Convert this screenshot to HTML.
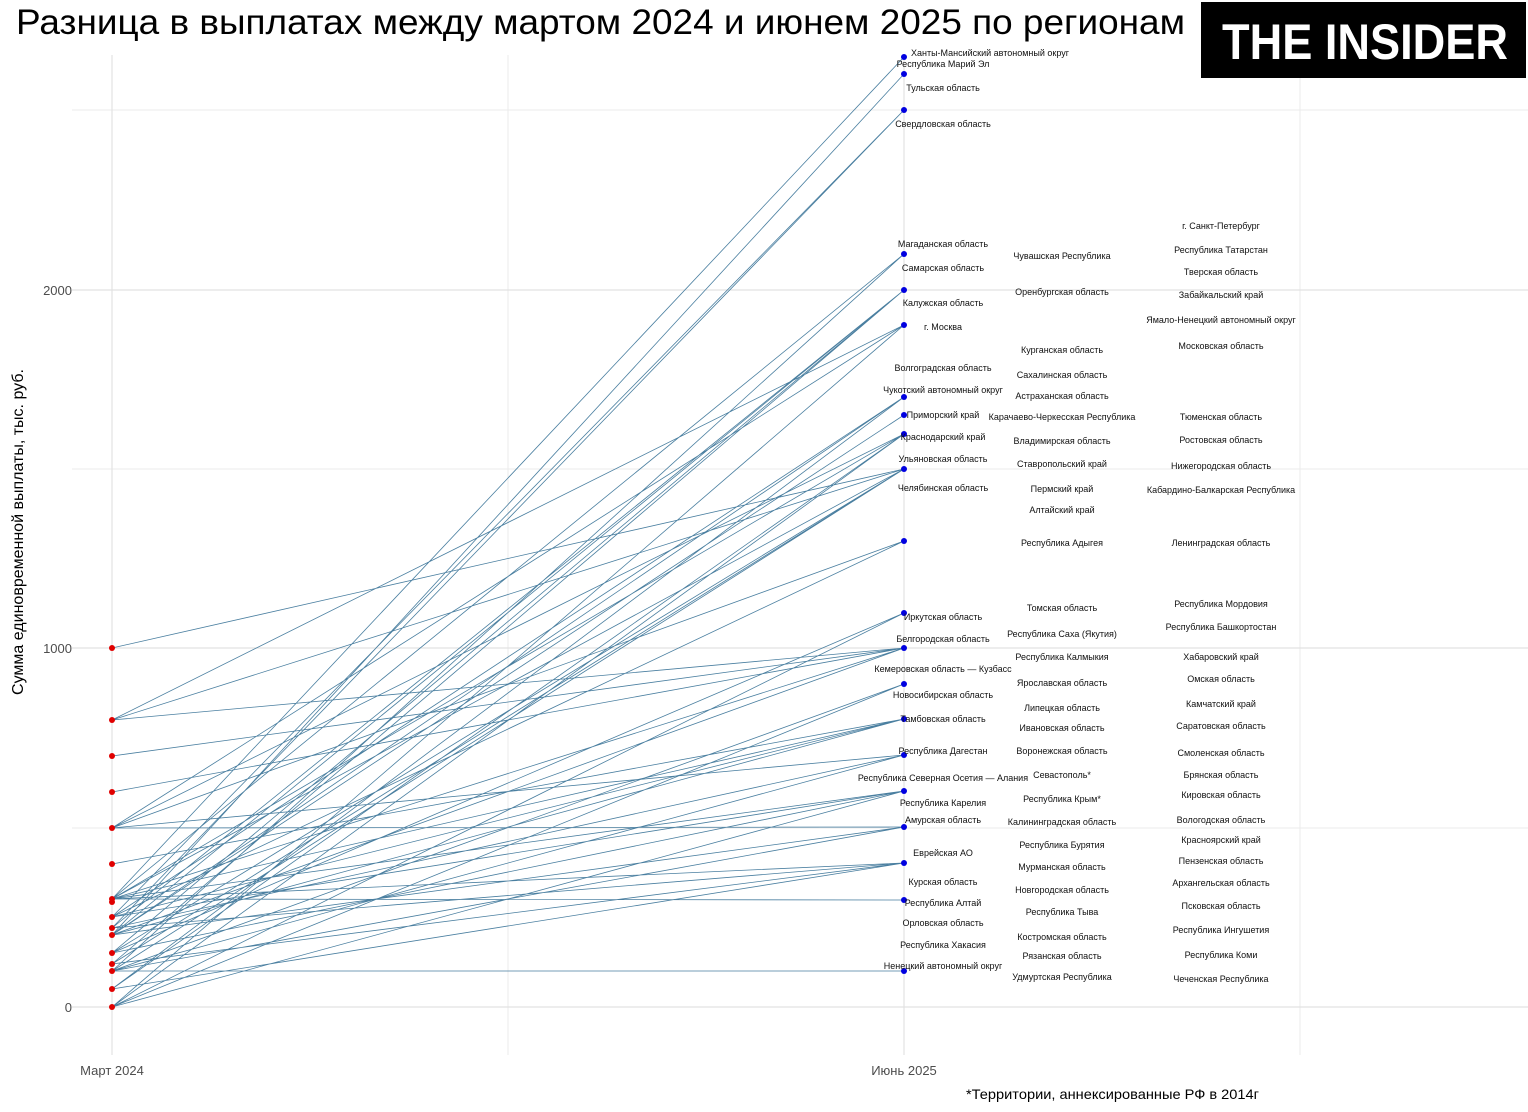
<!DOCTYPE html>
<html><head><meta charset="utf-8"><style>
html,body{margin:0;padding:0;background:#fff;}
body{width:1528px;height:1112px;position:relative;overflow:hidden;font-family:"Liberation Sans",sans-serif;}
</style></head><body>
<svg width="1528" height="1112" xmlns="http://www.w3.org/2000/svg" style="position:absolute;left:0;top:0" font-family="Liberation Sans, sans-serif">
<g stroke="#ebebeb" stroke-width="1">
<line x1="72" x2="1528" y1="110" y2="110"/><line x1="72" x2="1528" y1="469" y2="469"/><line x1="72" x2="1528" y1="828" y2="828"/>
<line x1="508" x2="508" y1="55" y2="1055"/><line x1="1300" x2="1300" y1="55" y2="1055"/>
</g>
<g stroke="#e2e2e2" stroke-width="1.2">
<line x1="72" x2="1528" y1="290" y2="290"/><line x1="72" x2="1528" y1="648" y2="648"/><line x1="72" x2="1528" y1="1007" y2="1007"/>
<line x1="112" x2="112" y1="55" y2="1055"/><line x1="904" x2="904" y1="55" y2="1055"/>
</g>
<g stroke="#4a7fa0" stroke-width="0.8" fill="none">
<path d="M112 899L904 57M112 935L904 74M112 917L904 110M112 928L904 110M112 899L904 254M112 971L904 254M112 935L904 290M112 964L904 290M112 953L904 290M112 928L904 290M112 828L904 325M112 720L904 325M112 1007L904 325M112 989L904 397M112 917L904 397M112 935L904 415M112 899L904 434M112 828L904 434M112 1007L904 434M112 989L904 434M112 648L904 469M112 720L904 469M112 971L904 469M112 953L904 469M112 964L904 469M112 828L904 541M112 1007L904 613M112 720L904 648M112 792L904 648M112 899L904 648M112 935L904 648M112 756L904 648M112 1007L904 684M112 864L904 719M112 899L904 719M112 935L904 719M112 828L904 755M112 971L904 755M112 928L904 755M112 917L904 791M112 953L904 791M112 1007L904 791M112 899L904 791M112 935L904 827M112 971L904 827M112 828L904 827M112 899L904 863M112 964L904 863M112 989L904 863M112 928L904 863M112 899L904 900M112 971L904 971M112 917L904 541M112 953L904 613M112 899L904 469M112 935L904 397M112 971L904 684M112 917L904 719M112 828L904 434"/>
</g>
<g fill="#e00000">
<circle cx="112" cy="648" r="3"/><circle cx="112" cy="720" r="3"/><circle cx="112" cy="756" r="3"/><circle cx="112" cy="792" r="3"/><circle cx="112" cy="828" r="3"/><circle cx="112" cy="864" r="3"/><circle cx="112" cy="899" r="3"/><circle cx="112" cy="902" r="3"/><circle cx="112" cy="917" r="3"/><circle cx="112" cy="928" r="3"/><circle cx="112" cy="935" r="3"/><circle cx="112" cy="953" r="3"/><circle cx="112" cy="964" r="3"/><circle cx="112" cy="971" r="3"/><circle cx="112" cy="989" r="3"/><circle cx="112" cy="1007" r="3"/>
</g>
<g fill="#0000e0">
<circle cx="904" cy="57" r="3"/><circle cx="904" cy="74" r="3"/><circle cx="904" cy="110" r="3"/><circle cx="904" cy="254" r="3"/><circle cx="904" cy="290" r="3"/><circle cx="904" cy="325" r="3"/><circle cx="904" cy="397" r="3"/><circle cx="904" cy="415" r="3"/><circle cx="904" cy="434" r="3"/><circle cx="904" cy="469" r="3"/><circle cx="904" cy="541" r="3"/><circle cx="904" cy="613" r="3"/><circle cx="904" cy="648" r="3"/><circle cx="904" cy="684" r="3"/><circle cx="904" cy="719" r="3"/><circle cx="904" cy="755" r="3"/><circle cx="904" cy="791" r="3"/><circle cx="904" cy="827" r="3"/><circle cx="904" cy="863" r="3"/><circle cx="904" cy="900" r="3"/><circle cx="904" cy="971" r="3"/>
</g>
<g font-size="9" fill="#111" text-anchor="middle">
<text x="990" y="56">Ханты-Мансийский автономный округ</text>
<text x="943" y="67">Республика Марий Эл</text>
<text x="943" y="91">Тульская область</text>
<text x="943" y="127">Свердловская область</text>
<text x="943" y="247">Магаданская область</text>
<text x="943" y="271">Самарская область</text>
<text x="943" y="306">Калужская область</text>
<text x="943" y="330">г. Москва</text>
<text x="943" y="371">Волгоградская область</text>
<text x="943" y="393">Чукотский автономный округ</text>
<text x="943" y="418">Приморский край</text>
<text x="943" y="440">Краснодарский край</text>
<text x="943" y="462">Ульяновская область</text>
<text x="943" y="491">Челябинская область</text>
<text x="943" y="620">Иркутская область</text>
<text x="943" y="642">Белгородская область</text>
<text x="943" y="672">Кемеровская область — Кузбасс</text>
<text x="943" y="698">Новосибирская область</text>
<text x="943" y="722">Тамбовская область</text>
<text x="943" y="754">Республика Дагестан</text>
<text x="943" y="781">Республика Северная Осетия — Алания</text>
<text x="943" y="806">Республика Карелия</text>
<text x="943" y="823">Амурская область</text>
<text x="943" y="856">Еврейская АО</text>
<text x="943" y="885">Курская область</text>
<text x="943" y="906">Республика Алтай</text>
<text x="943" y="926">Орловская область</text>
<text x="943" y="948">Республика Хакасия</text>
<text x="943" y="969">Ненецкий автономный округ</text>

<text x="1062" y="259">Чувашская Республика</text>
<text x="1062" y="295">Оренбургская область</text>
<text x="1062" y="353">Курганская область</text>
<text x="1062" y="378">Сахалинская область</text>
<text x="1062" y="399">Астраханская область</text>
<text x="1062" y="420">Карачаево-Черкесская Республика</text>
<text x="1062" y="444">Владимирская область</text>
<text x="1062" y="467">Ставропольский край</text>
<text x="1062" y="492">Пермский край</text>
<text x="1062" y="513">Алтайский край</text>
<text x="1062" y="546">Республика Адыгея</text>
<text x="1062" y="611">Томская область</text>
<text x="1062" y="637">Республика Саха (Якутия)</text>
<text x="1062" y="660">Республика Калмыкия</text>
<text x="1062" y="686">Ярославская область</text>
<text x="1062" y="711">Липецкая область</text>
<text x="1062" y="731">Ивановская область</text>
<text x="1062" y="754">Воронежская область</text>
<text x="1062" y="778">Севастополь*</text>
<text x="1062" y="802">Республика Крым*</text>
<text x="1062" y="825">Калининградская область</text>
<text x="1062" y="848">Республика Бурятия</text>
<text x="1062" y="870">Мурманская область</text>
<text x="1062" y="893">Новгородская область</text>
<text x="1062" y="915">Республика Тыва</text>
<text x="1062" y="940">Костромская область</text>
<text x="1062" y="959">Рязанская область</text>
<text x="1062" y="980">Удмуртская Республика</text>

<text x="1221" y="229">г. Санкт-Петербург</text>
<text x="1221" y="253">Республика Татарстан</text>
<text x="1221" y="275">Тверская область</text>
<text x="1221" y="298">Забайкальский край</text>
<text x="1221" y="323">Ямало-Ненецкий автономный округ</text>
<text x="1221" y="349">Московская область</text>
<text x="1221" y="420">Тюменская область</text>
<text x="1221" y="443">Ростовская область</text>
<text x="1221" y="469">Нижегородская область</text>
<text x="1221" y="493">Кабардино-Балкарская Республика</text>
<text x="1221" y="546">Ленинградская область</text>
<text x="1221" y="607">Республика Мордовия</text>
<text x="1221" y="630">Республика Башкортостан</text>
<text x="1221" y="660">Хабаровский край</text>
<text x="1221" y="682">Омская область</text>
<text x="1221" y="707">Камчатский край</text>
<text x="1221" y="729">Саратовская область</text>
<text x="1221" y="756">Смоленская область</text>
<text x="1221" y="778">Брянская область</text>
<text x="1221" y="798">Кировская область</text>
<text x="1221" y="823">Вологодская область</text>
<text x="1221" y="843">Красноярский край</text>
<text x="1221" y="864">Пензенская область</text>
<text x="1221" y="886">Архангельская область</text>
<text x="1221" y="909">Псковская область</text>
<text x="1221" y="933">Республика Ингушетия</text>
<text x="1221" y="958">Республика Коми</text>
<text x="1221" y="982">Чеченская Республика</text>
</g>
<g font-size="13" fill="#4d4d4d">
<text x="72" y="295" text-anchor="end">2000</text>
<text x="72" y="653" text-anchor="end">1000</text>
<text x="72" y="1012" text-anchor="end">0</text>
<text x="112" y="1075" text-anchor="middle">Март 2024</text>
<text x="904" y="1075" text-anchor="middle">Июнь 2025</text>
</g>
<text transform="translate(23,532) rotate(-90)" font-size="16" text-anchor="middle" fill="#000">Сумма единовременной выплаты, тыс. руб.</text>
<text x="966" y="1099" font-size="14" textLength="293" lengthAdjust="spacingAndGlyphs" fill="#000">*Территории, аннексированные РФ в 2014г</text>
<text x="16" y="34" font-size="35" textLength="1169" lengthAdjust="spacingAndGlyphs" fill="#000">Разница в выплатах между мартом 2024 и июнем 2025 по регионам</text>
<rect x="1201" y="2" width="325" height="76" fill="#000"/>
<text x="1222" y="59" font-size="50" font-weight="bold" fill="#fff" textLength="286" lengthAdjust="spacingAndGlyphs">THE INSIDER</text>
</svg>
</body></html>
